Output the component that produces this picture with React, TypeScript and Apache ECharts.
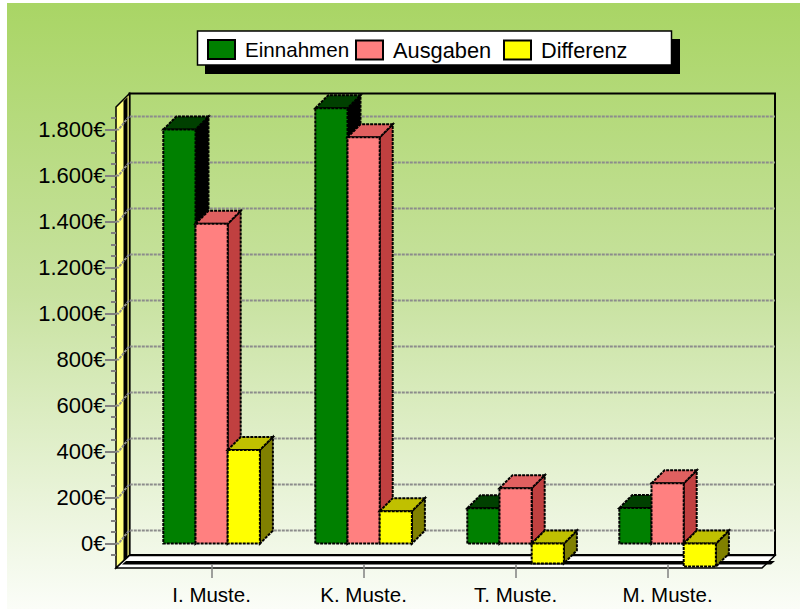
import React, { useEffect, useRef } from "react";
import * as echarts from "echarts";

const categories = ["I. Muste.", "K. Muste.", "T. Muste.", "M. Muste."];
const einnahmen = [1800, 1893, 154, 155];
const ausgaben = [1390, 1766, 241, 262];
const differenz = [407, 141, -86, -100];
const majorTicks = [0, 200, 400, 600, 800, 1000, 1200, 1400, 1600, 1800];
const minorTicks = [-50, 50, 100, 150, 250, 300, 350, 450, 500, 550, 650, 700, 750, 850, 900, 950, 1050, 1100, 1150, 1250, 1300, 1350, 1450, 1500, 1550, 1650, 1700, 1750, 1850];

const FONT = "Liberation Sans";
const DEPTH = 13;
const colors = [
  { front: "#008000", top: "#004000", side: "#000000" },
  { front: "#FF8080", top: "#E06060", side: "#C04040" },
  { front: "#FFFF00", top: "#C0C000", side: "#808000" },
];
const edge = { stroke: "#000", lineWidth: 2, lineDash: [3, 1] };

const barSeries = (name: string, values: number[], idx: number) => ({
  type: "custom",
  name,
  z: 5 + idx,
  itemStyle: { color: colors[idx].front },
  data: values.map((v, i) => [i, v]),
  renderItem: (_p: any, api: any) => {
    const cat = api.value(0);
    const val = api.value(1);
    const w = api.size([1, 0])[0] * 0.2118;
    const [cx, yv] = api.coord([cat, val]);
    const [, y0] = api.coord([cat, 0]);
    const x0 = cx + (idx - 1.5) * w;
    const x1 = x0 + w;
    const top = Math.min(yv, y0);
    const bot = Math.max(yv, y0);
    const c = colors[idx];
    return {
      type: "group",
      children: [
        {
          type: "polygon",
          shape: { points: [[x1, top], [x1 + DEPTH, top - DEPTH], [x1 + DEPTH, bot - DEPTH], [x1, bot]] },
          style: { fill: c.side, ...edge },
        },
        {
          type: "polygon",
          shape: { points: [[x0, top], [x0 + DEPTH, top - DEPTH], [x1 + DEPTH, top - DEPTH], [x1, top]] },
          style: { fill: c.top, ...edge },
        },
        {
          type: "rect",
          shape: { x: x0, y: top, width: w, height: bot - top },
          style: { fill: c.front, ...edge },
        },
      ],
    };
  },
});

const legendItem = (name: string, left: number, fontSize: number) => ({
  data: [name],
  left,
  top: 39,
  padding: 0,
  z: 6,
  itemWidth: 27,
  itemHeight: 19,
  icon: "rect",
  selectedMode: false,
  itemStyle: { borderColor: "#000", borderWidth: 2 },
  textStyle: { fontFamily: FONT, fontSize, color: "#000", padding: [0, 0, 0, 5] },
});

export default function App() {
  const ref = useRef<HTMLDivElement>(null);
  useEffect(() => {
    const chart = echarts.init(ref.current!, null, { renderer: "svg" });
    chart.setOption({
      animation: false,
      grid: { left: 135.6, width: 608, top: 107, height: 461 },
      legend: [legendItem("Einnahmen", 207, 20.6), legendItem("Ausgaben", 355, 21.8), legendItem("Differenz", 503, 21.7)],
      xAxis: {
        type: "category",
        data: categories,
        offset: -4,
        axisLine: { show: false, onZero: false },
        axisTick: { show: true, alignWithLabel: true, length: 14, lineStyle: { color: "#808080", width: 1.5 } },
        axisLabel: { fontFamily: FONT, fontSize: 20.5, color: "#000", margin: 20 },
      },
      yAxis: [
        {
          type: "value",
          position: "left",
          offset: 19.6,
          min: -106,
          max: 1898,
          splitLine: { show: false },
          axisLine: { show: false },
          axisTick: { show: true, length: 11, customValues: majorTicks, lineStyle: { color: "#808080", width: 2 } },
          axisLabel: {
            fontFamily: FONT,
            fontSize: 22,
            color: "#000",
            margin: 10.5,
            customValues: majorTicks,
            formatter: (v: number) => (v >= 1000 ? `${Math.floor(v / 1000)}.${String(v % 1000).padStart(3, "0")}€` : `${v}€`),
          },
        },
        {
          type: "value",
          position: "left",
          offset: 19.6,
          min: -106,
          max: 1898,
          splitLine: { show: false },
          axisLine: { show: false },
          axisTick: { show: true, length: 5, customValues: minorTicks, lineStyle: { color: "#808080", width: 2 } },
          axisLabel: { show: false },
        },
      ],
      graphic: [
        {
          type: "rect",
          z: -5,
          shape: { x: 7, y: 3, width: 793, height: 606 },
          style: {
            fill: new echarts.graphic.LinearGradient(0, 0, 0, 1, [
              { offset: 0, color: "#A9D565" },
              { offset: 0.48, color: "#C8E2A0" },
              { offset: 1, color: "#FBFDF8" },
            ]),
          },
        },
        // back wall
        { type: "rect", z: -4, shape: { x: 129.5, y: 93.5, width: 645.5, height: 461.5 }, style: { fill: "none", stroke: "#000", lineWidth: 2 } },
        // left wall
        {
          type: "polygon",
          z: -3,
          shape: { points: [[116, 107], [129.5, 93.5], [129.5, 555], [116, 568]] },
          style: { fill: "#FFFF80", stroke: "#000", lineWidth: 1.5 },
        },
        {
          type: "polygon",
          z: -3,
          shape: { points: [[123.5, 101], [127.5, 97], [127.5, 558], [123.5, 561.5]] },
          style: { fill: "#000" },
        },
        // floor
        {
          type: "polygon",
          z: -3,
          shape: { points: [[129.5, 555.5], [775, 555.5], [762, 568], [116, 568]] },
          style: { fill: "#FFF", stroke: "#000", lineWidth: 1.5 },
        },
        {
          type: "polygon",
          z: -3,
          shape: { points: [[126, 561], [775, 561], [771, 564.5], [122, 564.5]] },
          style: { fill: "#000" },
        },
        // legend frame
        { type: "rect", z: 3, shape: { x: 205, y: 39, width: 475, height: 35 }, style: { fill: "#000" } },
        { type: "rect", z: 3, shape: { x: 197.5, y: 31, width: 474, height: 34 }, style: { fill: "#FFF", stroke: "#000", lineWidth: 1.5 } },
      ],
      series: [
        {
          type: "custom",
          name: "grid",
          z: 3,
          silent: true,
          data: majorTicks.map((v) => [0, v]),
          renderItem: (p: any, api: any) => {
            const [, y] = api.coord([0, api.value(1)]);
            const x = p.coordSys.x - 19.6;
            const right = p.coordSys.x + p.coordSys.width + 31.4;
            return {
              type: "polyline",
              shape: { points: [[x, y], [x + 2.5, y], [x + DEPTH, y - DEPTH], [right, y - DEPTH]] },
              style: { fill: "none", stroke: "#8c8c8c", lineWidth: 2, lineDash: [3, 1] },
            };
          },
        },
        barSeries("Einnahmen", einnahmen, 0),
        barSeries("Ausgaben", ausgaben, 1),
        barSeries("Differenz", differenz, 2),
      ],
    });
    return () => chart.dispose();
  }, []);
  return <div ref={ref} style={{ position: "absolute", left: 0, top: 0, width: 807, height: 609, background: "#fff" }} />;
}
